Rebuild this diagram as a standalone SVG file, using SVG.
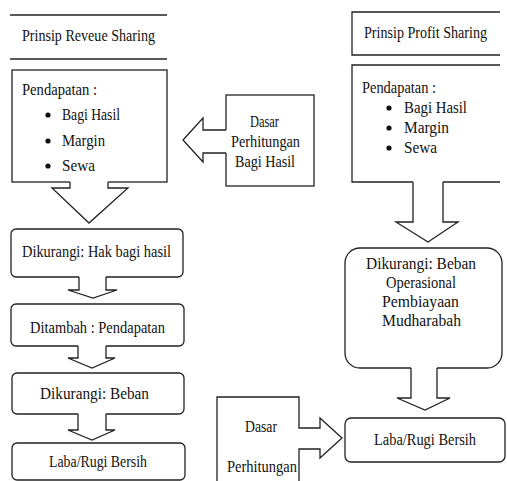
<svg xmlns="http://www.w3.org/2000/svg" width="507" height="481" viewBox="0 0 507 481">
<style>
.t{font-family:"Liberation Serif","Times New Roman",serif;font-size:16px;fill:#111}
.b{fill:#fff;stroke:#222;stroke-width:1.3}
.ln{fill:none;stroke:#222;stroke-width:1.3}
.af{fill:#fff;stroke:none}
.dot{fill:#111}
</style>
<rect width="507" height="481" fill="#fff"/>

<g id="hdr-revenue">
<line class="ln" x1="10" y1="15" x2="167" y2="15"/>
<line class="ln" x1="10" y1="59" x2="167" y2="59"/>
<text class="t" x="22" y="41" textLength="133" lengthAdjust="spacingAndGlyphs">Prinsip Reveue Sharing</text>
</g>

<g id="pendapatan-left">
<rect class="b" x="12" y="70" width="155" height="112"/>
<text class="t" x="22" y="95" textLength="75" lengthAdjust="spacingAndGlyphs">Pendapatan :</text>
<circle class="dot" cx="48" cy="115" r="2.6"/>
<text class="t" x="62" y="120" textLength="58" lengthAdjust="spacingAndGlyphs">Bagi Hasil</text>
<circle class="dot" cx="48" cy="141" r="2.6"/>
<text class="t" x="62" y="146" textLength="43" lengthAdjust="spacingAndGlyphs">Margin</text>
<circle class="dot" cx="48" cy="166" r="2.6"/>
<text class="t" x="62" y="171" textLength="33" lengthAdjust="spacingAndGlyphs">Sewa</text>
</g>

<g id="dasar-top">
<rect class="b" x="226" y="95" width="88" height="91"/>
<text class="t" x="250" y="127" textLength="29" lengthAdjust="spacingAndGlyphs">Dasar</text>
<text class="t" x="231" y="147" textLength="69" lengthAdjust="spacingAndGlyphs">Perhitungan</text>
<text class="t" x="235" y="167" textLength="60" lengthAdjust="spacingAndGlyphs">Bagi Hasil</text>
</g>

<g id="hak-bagi-hasil">
<rect class="b" x="11" y="229" width="172" height="48" rx="5"/>
<text class="t" x="22" y="257" textLength="149" lengthAdjust="spacingAndGlyphs">Dikurangi: Hak bagi hasil</text>
</g>

<g id="ditambah">
<rect class="b" x="11" y="304" width="173" height="42" rx="5"/>
<text class="t" x="30" y="333" textLength="135" lengthAdjust="spacingAndGlyphs">Ditambah : Pendapatan</text>
</g>

<g id="beban-left">
<rect class="b" x="12" y="373" width="172" height="41" rx="5"/>
<text class="t" x="40" y="399" textLength="109" lengthAdjust="spacingAndGlyphs">Dikurangi: Beban</text>
</g>

<g id="laba-left">
<rect class="b" x="12" y="443" width="173" height="37" rx="5"/>
<text class="t" x="49" y="467" textLength="98" lengthAdjust="spacingAndGlyphs">Laba/Rugi Bersih</text>
</g>

<g id="hdr-profit">
<path class="ln" d="M500,12 H352 V55 H500"/>
<text class="t" x="364" y="38" textLength="123" lengthAdjust="spacingAndGlyphs">Prinsip Profit Sharing</text>
</g>

<g id="pendapatan-right">
<path class="b" d="M500,65 H352 V182 H500"/>
<text class="t" x="362" y="93" textLength="74" lengthAdjust="spacingAndGlyphs">Pendapatan :</text>
<circle class="dot" cx="389" cy="108" r="2.6"/>
<text class="t" x="404" y="113" textLength="63" lengthAdjust="spacingAndGlyphs">Bagi Hasil</text>
<circle class="dot" cx="389" cy="128" r="2.6"/>
<text class="t" x="404" y="133" textLength="45" lengthAdjust="spacingAndGlyphs">Margin</text>
<circle class="dot" cx="389" cy="148" r="2.6"/>
<text class="t" x="404" y="153" textLength="33" lengthAdjust="spacingAndGlyphs">Sewa</text>
</g>

<g id="beban-right">
<rect class="b" x="345" y="248" width="157" height="120" rx="15"/>
<text class="t" x="366" y="269" textLength="110" lengthAdjust="spacingAndGlyphs">Dikurangi: Beban</text>
<text class="t" x="386" y="288" textLength="70" lengthAdjust="spacingAndGlyphs">Operasional</text>
<text class="t" x="382" y="307" textLength="77" lengthAdjust="spacingAndGlyphs">Pembiayaan</text>
<text class="t" x="382" y="326" textLength="79" lengthAdjust="spacingAndGlyphs">Mudharabah</text>
</g>

<g id="laba-right">
<rect class="b" x="345" y="418" width="160" height="44" rx="6"/>
<text class="t" x="374" y="445" textLength="102" lengthAdjust="spacingAndGlyphs">Laba/Rugi Bersih</text>
</g>

<g id="dasar-bottom">
<path class="b" d="M217,482 V397 H299 V428 H320 V418 L342,438 L320,458 V449 H299 V482"/>
<text class="t" x="245" y="432" textLength="32" lengthAdjust="spacingAndGlyphs">Dasar</text>
<text class="t" x="227" y="472" textLength="70" lengthAdjust="spacingAndGlyphs">Perhitungan</text>
</g>

<g id="connectors">
<polygon class="af" points="70,181 70,188 52,188 89,223 128,188 108,188 108,181"/>
<polyline class="ln" points="70,182 70,188 52,188 89,223 128,188 108,188 108,182"/>

<polygon class="af" points="227,130 203,130 203,118 183,140 203,162 203,153 227,153"/>
<polyline class="ln" points="226,130 203,130 203,118 183,140 203,162 203,153 226,153"/>

<polygon class="af" points="79,276 79,290 68,290 93,298 117,290 106,290 106,276"/>
<polyline class="ln" points="79,277 79,290 68,290 93,298 117,290 106,290 106,277"/>

<polygon class="af" points="78,345 78,358 68,358 92,368 115,358 106,358 106,345"/>
<polyline class="ln" points="78,346 78,358 68,358 92,368 115,358 106,358 106,346"/>

<polygon class="af" points="78,413 78,430 68,430 92,440 115,430 106,430 106,413"/>
<polyline class="ln" points="78,414 78,430 68,430 92,440 115,430 106,430 106,414"/>

<polygon class="af" points="413,181 413,222 396,222 428,242 458,222 443,222 443,181"/>
<polyline class="ln" points="413,182 413,222 396,222 428,242 458,222 443,222 443,182"/>

<polygon class="af" points="411,367 411,398 397,398 425,410 450,398 437,398 437,367"/>
<polyline class="ln" points="411,368 411,398 397,398 425,410 450,398 437,398 437,368"/>
</g>
</svg>
